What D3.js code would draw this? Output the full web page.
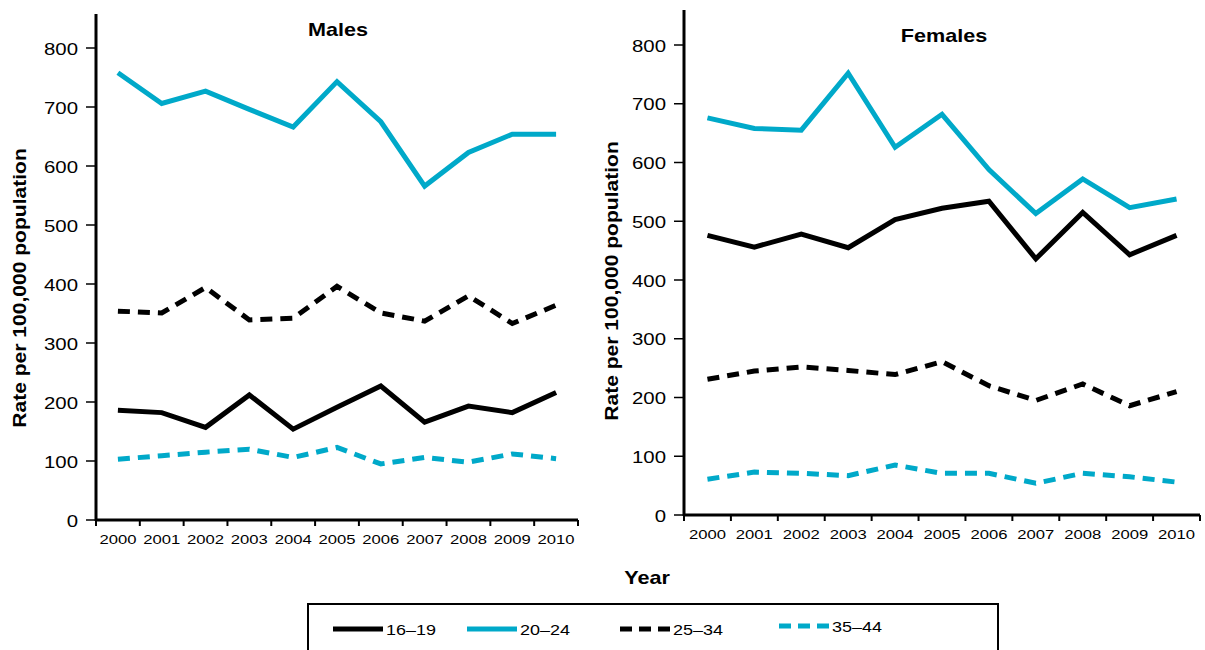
<!DOCTYPE html>
<html>
<head>
<meta charset="utf-8">
<script src="https://cdn.jsdelivr.net/npm/d3@7"></script>
<style>
  body { margin: 0; background: #fff; }
  svg text { font-family: "Liberation Sans", Arial, sans-serif; fill: #000; }
</style>
</head>
<body>
<svg id="chart" width="1205" height="650"></svg>
<script>
const years = ["2000","2001","2002","2003","2004","2005","2006","2007","2008","2009","2010"];
const groups = ["16–19", "20–24", "25–34", "35–44"];

const males_16_19 = [186, 182, 157, 212, 154, 191, 227, 166, 193, 182, 216];
const males_20_24 = [758, 706, 727, 696, 666, 743, 675, 566, 623, 654, 654];
const males_25_34 = [354, 351, 394, 339, 342, 396, 351, 337, 380, 333, 364];
const males_35_44 = [103, 109, 115, 120, 106, 123, 95, 106, 98, 112, 104];

const females_16_19 = [476, 456, 478, 455, 503, 522, 534, 436, 515, 443, 476];
const females_20_24 = [676, 658, 655, 752, 626, 682, 588, 513, 572, 523, 538];
const females_25_34 = [231, 245, 252, 246, 239, 261, 220, 195, 223, 186, 210];
const females_35_44 = [61, 73, 71, 67, 85, 71, 71, 54, 71, 65, 56];

const yTicks = [0, 100, 200, 300, 400, 500, 600, 700, 800];

const cyan = "#00a9c9";
const styles = [
  {color: "#000", dash: null},
  {color: cyan, dash: null},
  {color: "#000", dash: "12,8"},
  {color: cyan, dash: "12,8"}
];

const svg = d3.select("#chart");

// text in the reference is a wide grotesque, so stretch Liberation Sans a bit
function stext(x, y, str, size, opts = {}) {
  const sx = opts.sx || 1.28;
  const rot = opts.rotate ? ` rotate(${opts.rotate})` : "";
  return svg.append("text")
    .attr("transform", `translate(${x},${y})${rot} scale(${sx},1)`)
    .attr("text-anchor", opts.anchor || "middle")
    .style("font-size", size + "px")
    .style("font-weight", opts.bold ? "bold" : "normal")
    .text(str);
}

function panel(cfg) {
  const x = d3.scaleBand().domain(years).range([cfg.x0, cfg.x1]);
  const y = d3.scaleLinear().domain([0, 800]).range([cfg.yb, cfg.y800]);

  // y axis ticks + labels
  yTicks.forEach(t => {
    svg.append("line")
      .attr("x1", cfg.x0 - 10).attr("x2", cfg.x0)
      .attr("y1", y(t)).attr("y2", y(t))
      .attr("stroke", "#000").attr("stroke-width", 1.5);
    stext(cfg.x0 - 18, y(t) + 6.5, t, 17, {anchor: "end", sx: 1.2});
  });
  svg.append("line")
    .attr("x1", cfg.x0).attr("x2", cfg.x0)
    .attr("y1", cfg.yb + 1).attr("y2", cfg.ytop)
    .attr("stroke", "#000").attr("stroke-width", 3);

  // x axis
  svg.append("line")
    .attr("x1", cfg.x0).attr("x2", cfg.x1)
    .attr("y1", cfg.yb).attr("y2", cfg.yb)
    .attr("stroke", "#000").attr("stroke-width", 3);
  svg.append("g").selectAll("line")
    .data(years.concat(["end"])).enter()
    .append("line")
      .attr("x1", (d, i) => cfg.x0 + i * x.step())
      .attr("x2", (d, i) => cfg.x0 + i * x.step())
      .attr("y1", cfg.yb).attr("y2", cfg.yb + 6)
      .attr("stroke", "#000").attr("stroke-width", 2);
  years.forEach(d => stext(x(d) + x.bandwidth() / 2, cfg.yb + 24, d, 13));

  // title + y label
  stext(cfg.titleX, cfg.titleY, cfg.title, 18, {bold: true, sx: 1.2});
  stext(cfg.labelX, cfg.labelY, "Rate per 100,000 population", 18, {bold: true, sx: 1.17, rotate: -90});

  const line = d3.line()
    .x((d, i) => x(years[i]) + x.bandwidth() / 2)
    .y(d => y(d));

  cfg.series.forEach((s, k) => {
    svg.append("path")
      .datum(s)
      .attr("fill", "none")
      .attr("stroke", styles[k].color)
      .attr("stroke-width", 5)
      .attr("stroke-dasharray", styles[k].dash)
      .attr("d", line);
  });
}

panel({
  x0: 96, x1: 578, yb: 520, y800: 48, ytop: 14,
  title: "Males", titleX: 338, titleY: 36, labelX: 26, labelY: 288,
  series: [males_16_19, males_20_24, males_25_34, males_35_44]
});
panel({
  x0: 684, x1: 1200, yb: 515, y800: 45, ytop: 10,
  title: "Females", titleX: 944, titleY: 42, labelX: 618, labelY: 281,
  series: [females_16_19, females_20_24, females_25_34, females_35_44]
});

stext(647, 584, "Year", 18, {bold: true, sx: 1.2});

// legend
svg.append("rect")
  .attr("x", 308).attr("y", 604).attr("width", 690).attr("height", 60)
  .attr("fill", "none").attr("stroke", "#000").attr("stroke-width", 2);

const legX = [333, 467, 620, 779];
groups.forEach((g, i) => {
  const ly = i === 3 ? 626 : 629;
  svg.append("line")
    .attr("x1", legX[i]).attr("x2", legX[i] + 50)
    .attr("y1", ly).attr("y2", ly)
    .attr("stroke", styles[i].color)
    .attr("stroke-width", 5)
    .attr("stroke-dasharray", styles[i].dash ? "12,7" : null);
  stext(legX[i] + 53, ly + 6, g, 15, {anchor: "start", sx: 1.2});
});
</script>
</body>
</html>
